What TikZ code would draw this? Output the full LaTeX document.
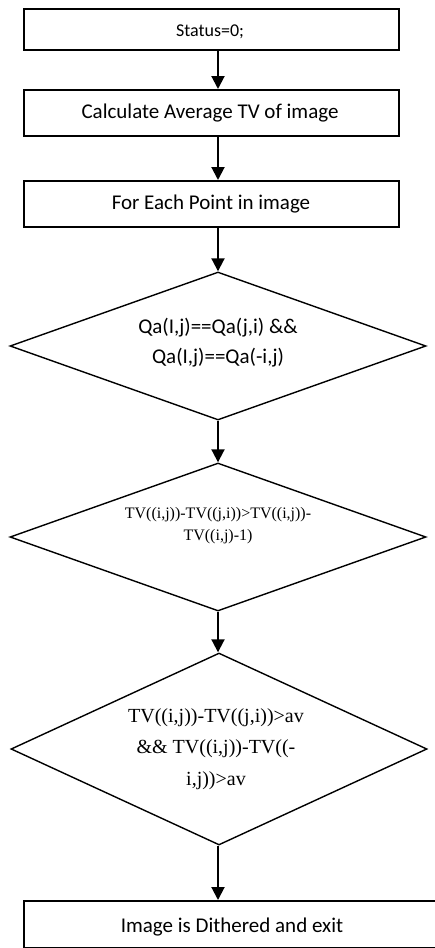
\documentclass[tikz,border=0pt]{standalone}
\usepackage{fontspec}
\setmainfont{Carlito}
\newfontfamily\serifTV{Liberation Serif}
\usetikzlibrary{arrows.meta,shapes.geometric}
\tikzset{
  procbox/.style={draw, line width=1.8pt, inner sep=0pt, anchor=north west},
  decision/.style={draw, shape=diamond, line width=1.4pt, inner sep=0pt},
  arr/.style={line width=2pt, -{Triangle[width=13pt,length=13pt]}},
  txt/.style={inner sep=0pt, align=center}
}
\begin{document}
\begin{tikzpicture}[x=1pt,y=-1pt]
\useasboundingbox (0,0) rectangle (435,948);
\begin{scope}
\clip (0,0) rectangle (435,948);
% boxes
\node[procbox, minimum width=375pt, minimum height=41pt] (b1) at (23,8) {};
\node[procbox, minimum width=375pt, minimum height=46pt] (b2) at (23,89) {};
\node[procbox, minimum width=375pt, minimum height=46pt] (b3) at (23,180) {};
\node[procbox, minimum width=416pt, minimum height=47pt] (b4) at (23,900) {};
% decisions
\node[decision, minimum width=416pt, minimum height=148pt] (d1) at (218,346) {};
\node[decision, minimum width=416pt, minimum height=148pt] (d2) at (218,537) {};
\node[decision, minimum width=416pt, minimum height=192pt] (d3) at (219,749) {};
% texts
\node[txt, font=\fontsize{18}{22}\selectfont] (t1) at (210,32) {Status=0;};
\node[txt, font=\fontsize{21}{25}\selectfont] (t2) at (210,113) {Calculate Average TV of image};
\node[txt, font=\fontsize{21}{25}\selectfont] (t3) at (211,204) {For Each Point in image};
\node[txt, font=\fontsize{21}{30}\selectfont] (t4) at (218,343) {Qa(I,j)==Qa(j,i) \&\&\\Qa(I,j)==Qa(-i,j)};
\node[txt, font=\serifTV\fontsize{16}{22}\selectfont] (t5) at (218,526) {TV((i,j))-TV((j,i))>TV((i,j))-\\TV((i,j)-1)};
\node[txt, font=\serifTV\fontsize{20}{31.5}\selectfont] (t6) at (216,749) {TV((i,j))-TV((j,i))>av\\\&\& TV((i,j))-TV((-\\i,j))>av};
\node[txt, font=\fontsize{21}{25}\selectfont] (t7) at (232,927) {Image is Dithered and exit};
\end{scope}
% connectors
\draw[arr] (b1.south -| d1.north) -- (b2.north -| d1.north);
\draw[arr] (b2.south -| d1.north) -- (b3.north -| d1.north);
\draw[arr] (b3.south -| d1.north) -- (d1.north);
\draw[arr] (d1.south) -- (d2.north);
\draw[arr] (d2.south) -- (d3.north -| d2.south);
\draw[arr] (d3.south -| d2.south) -- (b4.north -| d2.south);
\end{tikzpicture}
\end{document}
